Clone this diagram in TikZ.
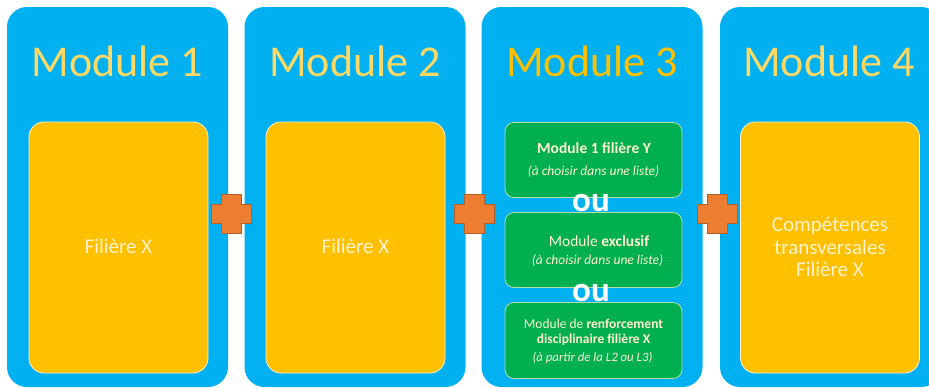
\documentclass[tikz,border=0pt]{standalone}
\usepackage{fontspec}
\setmainfont{Carlito}
\definecolor{panelblue}{HTML}{00B0F0}
\definecolor{boxyellow}{HTML}{FFC000}
\definecolor{boxgreen}{HTML}{00B050}
\definecolor{plusorange}{HTML}{ED7D31}
\definecolor{plusedge}{HTML}{B0602A}
\definecolor{titlelight}{HTML}{FFD966}
\definecolor{titlegold}{HTML}{FFC000}
\definecolor{textlight}{HTML}{FFF2CC}
\begin{document}
\begin{tikzpicture}[x=1pt,y=-1pt,
  panel/.style={fill=panelblue, draw=none, rounded corners=20pt,
    minimum width=221pt, minimum height=380pt, inner sep=0pt},
  yellowbox/.style={fill=boxyellow, draw=textlight, line width=0.8pt, rounded corners=15pt,
    minimum width=179pt, minimum height=251pt, inner sep=0pt},
  greenbox/.style={fill=boxgreen, draw=textlight!70!boxgreen, line width=0.8pt, rounded corners=9pt,
    minimum width=177pt, minimum height=75pt, inner sep=0pt},
  title/.style={font=\fontsize{44}{48}\selectfont, text=titlelight},
  boxtext/.style={font=\fontsize{21}{22.5}\selectfont, text=textlight, align=center},
  greentext/.style={text=textlight, align=center, inner sep=0pt},
  ortext/.style={font=\fontsize{35}{35}\selectfont\bfseries, text=white, inner sep=0pt},
  plusshape/.style={fill=plusorange, draw=plusedge, line width=0.7pt}
]
\useasboundingbox (0,0) rectangle (929,388);
\clip (0,0) rectangle (929,388);

% blue module panels
\node[panel] (p1) at (117.5,197) {};
\node[panel] (p2) at (355,197) {};
\node[panel] (p3) at (592,197) {};
\node[panel] (p4) at (830.5,197) {};

% panel titles
\node[title] (t1) at (117.5,61) {Module 1};
\node[title] (t2) at (355,61) {Module 2};
\node[title, text=titlegold] (t3) at (592,61) {Module 3};
\node[title] (t4) at (829,61) {Module 4};

% content of modules 1, 2 and 4
\node[yellowbox] (y1) at (118.5,247.5) {};
\node[boxtext] at (118.5,246) {Filière X};
\node[yellowbox] (y2) at (355.5,247.5) {};
\node[boxtext] at (355.5,246) {Filière X};
\node[yellowbox] (y4) at (830,247.5) {};
\node[boxtext] at (830,247) {Compétences\\transversales\\Filière X};

% the three alternatives of module 3
\node[greenbox] (g1) at (593.5,160) {};
\node[greenbox] (g2) at (593.5,250) {};
\node[greenbox, minimum height=76pt] (g3) at (593.5,340.5) {};

\node[greentext, font=\fontsize{15.5}{17}\selectfont\bfseries] at (594,148) {Module 1 filière Y};
\node[greentext, font=\fontsize{13.5}{15}\selectfont\itshape] at (593.5,171.5) {(à choisir dans une liste)};

\node[greentext, font=\fontsize{15.5}{17}\selectfont] at (599,241) {Module \textbf{exclusif}};
\node[greentext, font=\fontsize{13.5}{15}\selectfont\itshape] at (597.5,260.5) {(à choisir dans une liste)};

\node[greentext, font=\fontsize{13.5}{15.5}\selectfont] at (593.5,332.5)
  {Module de \textbf{renforcement}\\\textbf{disciplinaire filière X}};
\node[greentext, font=\fontsize{12.8}{14}\selectfont\itshape] at (592.5,357.5) {(à partir de la L2 ou L3)};

\node[ortext] (or1) at (591,203) {ou};
\node[ortext] (or2) at (591,293) {ou};

% plus signs between the modules
\foreach \cx in {231,474.5,717}{
  \draw[plusshape] (\cx-10,194) -- (\cx+10,194) -- (\cx+10,204.5) -- (\cx+20,204.5)
    -- (\cx+20,223.5) -- (\cx+10,223.5) -- (\cx+10,233.5) -- (\cx-10,233.5)
    -- (\cx-10,223.5) -- (\cx-20,223.5) -- (\cx-20,204.5) -- (\cx-10,204.5) -- cycle;
}
\end{tikzpicture}
\end{document}
